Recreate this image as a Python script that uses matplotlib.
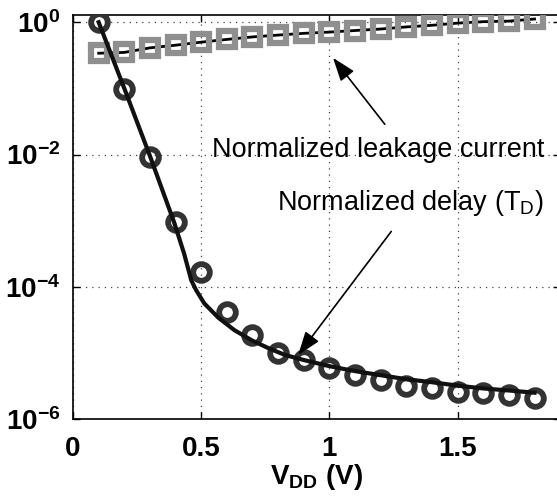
import numpy as np
import matplotlib
matplotlib.use('Agg')
import matplotlib.pyplot as plt

plt.rcParams['font.family'] = ['Liberation Sans', 'DejaVu Sans']
plt.rcParams['mathtext.fontset'] = 'custom'
plt.rcParams['mathtext.rm'] = 'Liberation Sans'
plt.rcParams['mathtext.bf'] = 'Liberation Sans:bold'

# measured points
vdd = [0.1, 0.2, 0.3, 0.4, 0.5, 0.6, 0.7, 0.8, 0.9, 1.0, 1.1, 1.2, 1.3, 1.4, 1.5, 1.6, 1.7, 1.8]
delay_meas = [1.0, 0.098, 0.0093, 9.5e-4, 1.66e-4, 4.2e-5, 1.86e-5, 1.0e-5, 7.7e-6, 5.9e-6,
              4.6e-6, 3.9e-6, 3.2e-6, 2.9e-6, 2.6e-6, 2.5e-6, 2.3e-6, 2.1e-6]
leak_meas = [0.34, 0.35, 0.41, 0.45, 0.50, 0.55, 0.60, 0.64, 0.68, 0.71,
             0.75, 0.79, 0.85, 0.90, 0.97, 1.02, 1.04, 1.12]

# model curve for delay
model_v = [0.1, 0.2, 0.3, 0.394, 0.433, 0.461, 0.48, 0.512, 0.567, 0.63, 0.697, 0.764,
           0.827, 0.9, 1.0, 1.1, 1.2, 1.3, 1.4, 1.5, 1.6, 1.7, 1.8]
model_delay = [1.0, 0.1, 0.0095, 9.5e-4, 3.2e-4, 1.26e-4, 8.9e-5, 5.6e-5, 3.4e-5, 2.2e-5,
               1.55e-5, 1.17e-5, 9.3e-6, 7.8e-6, 6.3e-6, 5.3e-6, 4.6e-6, 4.0e-6, 3.6e-6,
               3.2e-6, 2.9e-6, 2.7e-6, 2.5e-6]

xticks = [0, 0.5, 1, 1.5]
xtick_labels = ['0', '0.5', '1', '1.5']
yticks = [1e-6, 1e-4, 1e-2, 1e0]
ytick_labels = [r'$\mathbf{10^{-6}}$', r'$\mathbf{10^{-4}}$', r'$\mathbf{10^{-2}}$', r'$\mathbf{10^{0}}$']

fig = plt.figure(figsize=(5.57, 4.96), dpi=100)
ax = fig.add_axes([0.1311, 0.1552, 0.8746, 0.8146])

ax.set_yscale('log')
ax.set_xlim(0, 1.9)
ax.set_ylim(1e-6, 10**0.11)

# leakage: line below square markers
ax.plot(vdd, leak_meas, '-', color='k', lw=2, zorder=2)
ax.plot(vdd, leak_meas, 's', ms=11.5, mew=4.5, mec='#8f8f8f', mfc='none', zorder=3)

# delay
ax.plot(vdd, delay_meas, 'o', ms=12, mew=4.2, mec='#333333', mfc='none', zorder=3)
ax.plot(model_v, model_delay, '-', color='#111111', lw=3, solid_joinstyle='round', zorder=4)

ax.set_xticks(xticks)
ax.set_xticklabels(xtick_labels, fontsize=20, fontweight='bold')
ax.set_yticks(yticks)
ax.set_yticklabels(ytick_labels, fontsize=20)
ax.minorticks_off()
ax.tick_params(direction='in', length=5, width=1, top=True, right=True)
ax.tick_params(axis='x', pad=12)
ax.tick_params(axis='y', pad=9)

ax.grid(True, which='major', linestyle=(0, (1, 4)), color='#444444', lw=0.9)
for s in ax.spines.values():
    s.set_linewidth(1.2)

ax.set_xlabel(r'$\mathbf{V_{DD}}$ (V)', fontsize=20, fontweight='bold', labelpad=0)

ax.annotate('Normalized leakage current', xy=(1.014, 0.29), xytext=(1.19, 9.1e-3),
            ha='center', va='baseline', fontsize=19.5,
            arrowprops=dict(arrowstyle='-|>,head_length=0.9,head_width=0.32', mutation_scale=16,
                            color='k', lw=1.2, shrinkA=0, shrinkB=0,
                            patchA=None, relpos=(0.52, 1.5)))
ax.annotate(r'Normalized delay (T$_\mathrm{D}$)', xy=(0.878, 9.3e-6), xytext=(1.314, 1.45e-3),
            ha='center', va='baseline', fontsize=19.5,
            arrowprops=dict(arrowstyle='-|>,head_length=0.9,head_width=0.32', mutation_scale=16,
                            color='k', lw=1.2, shrinkA=0, shrinkB=0,
                            patchA=None, relpos=(0.43, -0.45)))

fig.savefig('out.png', dpi=100)
